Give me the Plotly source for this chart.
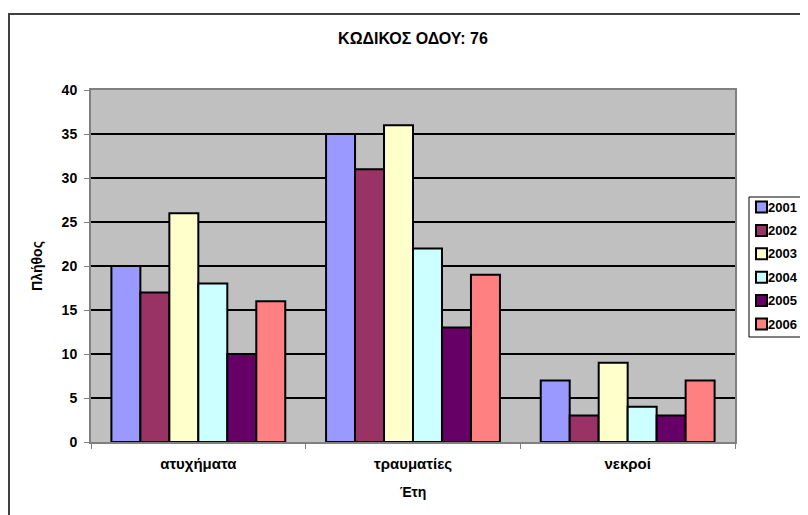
import plotly.graph_objects as go

categories = ["ατυχήματα", "τραυματίες", "νεκροί"]
years = ["2001", "2002", "2003", "2004", "2005", "2006"]
values_2001 = [20, 35, 7]
values_2002 = [17, 31, 3]
values_2003 = [26, 36, 9]
values_2004 = [18, 22, 4]
values_2005 = [10, 13, 3]
values_2006 = [16, 19, 7]
series = [values_2001, values_2002, values_2003, values_2004, values_2005, values_2006]
colors = ["#9999FF", "#993366", "#FFFFCC", "#CCFFFF", "#660066", "#FF8080"]
y_ticks = [0, 5, 10, 15, 20, 25, 30, 35, 40]

FONT = "Liberation Sans, Arial, sans-serif"

# page body has an 8px margin, so the figure is sized to fill the window from there
OFF = 8
W, H = 808 - OFF, 515 - OFF
L, T = 91 - OFF, 90 - OFF
PR, PB = 735 - OFF, 442 - OFF
R, B = W - PR, H - PB
pw, ph = PR - L, PB - T


def px(x):
    return (x - OFF - L) / pw


def py(y):
    return 1 - (y - OFF - T) / ph


fig = go.Figure()
for y, vals, c in zip(years, series, colors):
    fig.add_trace(go.Bar(
        name=y, x=categories, y=vals,
        marker=dict(color=c, line=dict(color="black", width=2)),
        showlegend=False,
    ))

shapes = [
    # outer chart border
    dict(type="rect", xref="paper", yref="paper",
         x0=px(9), x1=1.3, y0=-0.4, y1=py(14),
         line=dict(color="#404040", width=2), fillcolor="rgba(0,0,0,0)", layer="above"),
    # legend box
    dict(type="rect", xref="paper", yref="paper",
         x0=px(749), x1=px(814), y0=py(337), y1=py(197),
         line=dict(color="black", width=1), fillcolor="white", layer="above"),
]
annotations = []
step = (324 - 207) / 5
for i, (y, c) in enumerate(zip(years, colors)):
    cy = 207 + i * step
    shapes.append(dict(type="rect", xref="paper", yref="paper",
                       x0=px(756), x1=px(767), y0=py(cy + 5.5), y1=py(cy - 5.5),
                       line=dict(color="black", width=2), fillcolor=c, layer="above"))
    annotations.append(dict(xref="paper", yref="paper", x=px(766), y=py(cy),
                            xanchor="left", yanchor="middle", showarrow=False,
                            text="<b>" + y + "</b>",
                            font=dict(family=FONT, size=13, color="black")))

fig.update_layout(
    width=W, height=H,
    margin=dict(l=L, r=R, t=T, b=B, autoexpand=False),
    paper_bgcolor="white",
    plot_bgcolor="#C0C0C0",
    barmode="group",
    bargap=0.19,
    bargroupgap=0,
    showlegend=False,
    font=dict(family=FONT, size=13, color="black"),
    title=dict(
        text="<b>ΚΩΔΙΚΟΣ ΟΔΟΥ: 76</b>",
        x=0.5, xref="paper", xanchor="center",
        y=1 - (38 - OFF) / H, yref="container", yanchor="middle",
        font=dict(family=FONT, size=16, color="black"),
    ),
    xaxis=dict(
        type="category",
        showgrid=False,
        showline=True, linecolor="#808080", linewidth=2, mirror=True,
        ticks="outside", tickson="boundaries", ticklen=5, tickcolor="#808080", tickwidth=1,
        ticklabelstandoff=7,
        tickfont=dict(family=FONT, size=15, weight="bold", color="black"),
        title=dict(text="<b>Έτη</b>", standoff=16,
                   font=dict(family=FONT, size=14, color="black")),
    ),
    yaxis=dict(
        range=[0, 40],
        tickvals=y_ticks,
        showgrid=True, gridcolor="black", gridwidth=1.5,
        zeroline=False,
        showline=True, linecolor="#808080", linewidth=2, mirror=True,
        ticks="outside", ticklen=5, tickcolor="#808080", tickwidth=1,
        ticklabelstandoff=4,
        tickfont=dict(family=FONT, size=14, weight="bold", color="black"),
        title=dict(text="<b>Πλήθος</b>", standoff=16,
                   font=dict(family=FONT, size=14, color="black")),
    ),
    shapes=shapes,
    annotations=annotations,
)

fig.write_html("out.html")
